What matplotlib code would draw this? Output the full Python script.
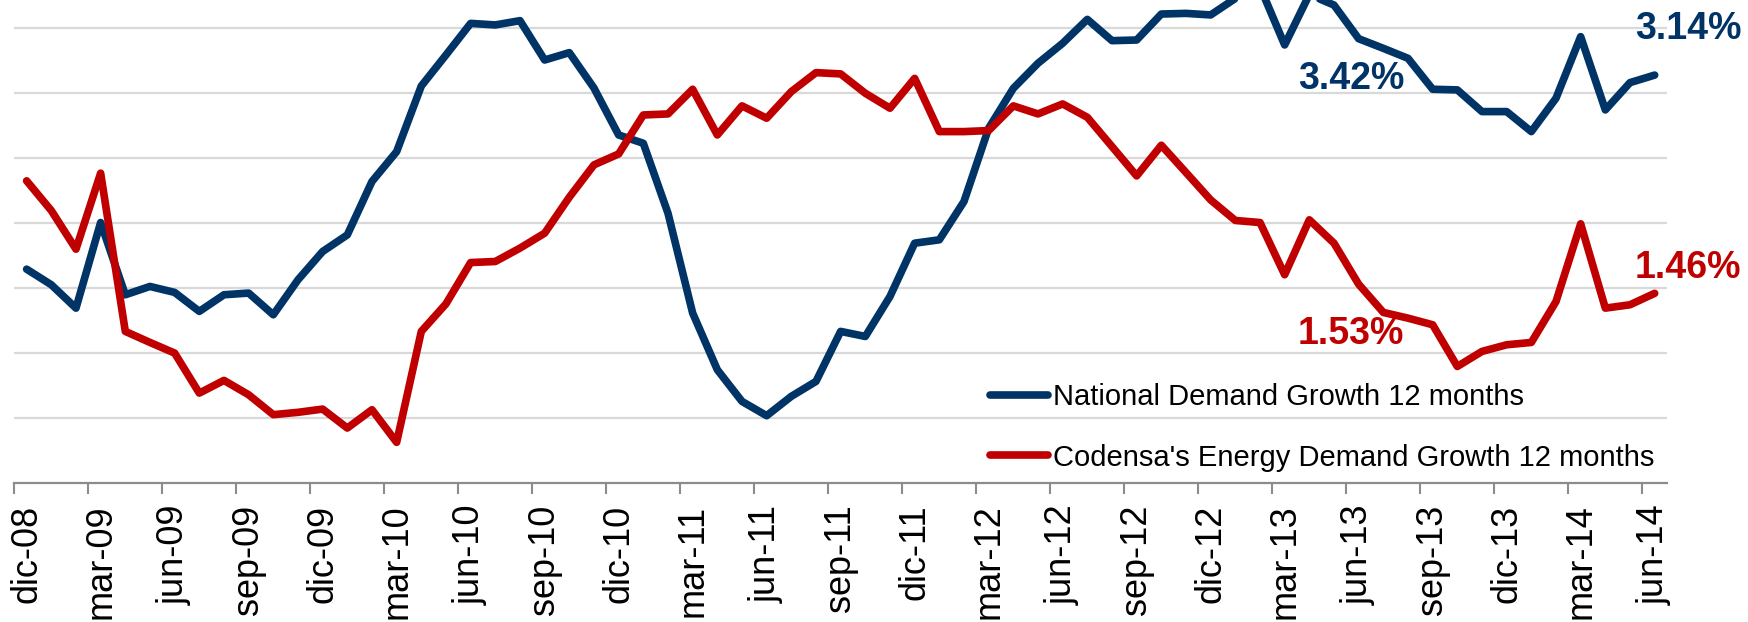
import matplotlib
matplotlib.use("Agg")
import matplotlib.pyplot as plt
import numpy as np

# monthly 12-month demand growth (%), dic-08 .. jun-14
national_growth = [
    1.646, 1.526, 1.346, 2.005, 1.449, 1.513, 1.467, 1.321, 1.449, 1.462,
    1.295, 1.564, 1.782, 1.910, 2.321, 2.551, 3.056, 3.295, 3.538, 3.526,
    3.559, 3.256, 3.313, 3.040, 2.679, 2.615, 2.077, 1.308, 0.872, 0.628,
    0.518, 0.667, 0.782, 1.167, 1.128, 1.436, 1.846, 1.872, 2.167, 2.731,
    3.038, 3.231, 3.385, 3.569, 3.405, 3.410, 3.610, 3.615, 3.603, 3.730,
    3.820, 3.372, 3.760, 3.679, 3.420, 3.346, 3.269, 3.031, 3.026, 2.859,
    2.859, 2.705, 2.962, 3.436, 2.872, 3.082, 3.140,
]
codensa_growth = [
    2.326, 2.097, 1.800, 2.385, 1.167, 1.082, 1.000, 0.692, 0.790, 0.679,
    0.526, 0.544, 0.569, 0.423, 0.564, 0.313, 1.167, 1.379, 1.697, 1.705,
    1.808, 1.923, 2.200, 2.449, 2.533, 2.833, 2.841, 3.031, 2.679, 2.903,
    2.808, 3.013, 3.159, 3.149, 3.000, 2.885, 3.115, 2.705, 2.705, 2.713,
    2.903, 2.841, 2.918, 2.815, 2.590, 2.364, 2.600, 2.390, 2.179, 2.021,
    2.005, 1.603, 2.026, 1.846, 1.530, 1.313, 1.269, 1.218, 0.897, 1.013,
    1.064, 1.082, 1.397, 1.995, 1.346, 1.372, 1.460,
]
tick_labels = [
    "dic-08", "mar-09", "jun-09", "sep-09", "dic-09", "mar-10", "jun-10",
    "sep-10", "dic-10", "mar-11", "jun-11", "sep-11", "dic-11", "mar-12",
    "jun-12", "sep-12", "dic-12", "mar-13", "jun-13", "sep-13", "dic-13",
    "mar-14", "jun-14",
]
grid_values = [0.5, 1.0, 1.5, 2.0, 2.5, 3.0, 3.5]
# (series, month index, offset in points)
labeled_points = [("national", 54, (-5, -29)), ("national", 66, (24, 33)),
                  ("codensa", 54, (-6, -36)), ("codensa", 66, (24, 18))]

BLUE = "#003366"
RED = "#C00000"
GRID = "#D9D9D9"
AXIS = "#8C8C8C"
LINEWIDTH = 5.5

plt.rcParams['font.family'] = ['Liberation Sans', 'DejaVu Sans']

fig = plt.figure(figsize=(17.48, 6.22), dpi=100)
ax = fig.add_axes([14.3 / 1748, 1 - 483 / 622, (1667 - 14.3) / 1748, 483 / 622])

months = np.arange(len(national_growth))
l1, = ax.plot(months, national_growth, color=BLUE, linewidth=LINEWIDTH,
              solid_capstyle='round', solid_joinstyle='round',
              label="National Demand Growth 12 months")
l2, = ax.plot(months, codensa_growth, color=RED, linewidth=LINEWIDTH,
              solid_capstyle='round', solid_joinstyle='round',
              label="Codensa's Energy Demand Growth 12 months")

ax.set_xlim(-0.5, len(months) - 0.5)
ax.set_ylim(0, 3.718)

# horizontal grid only, no y labels
ax.set_yticks(grid_values)
ax.yaxis.grid(True, color=GRID, linewidth=1.6)
ax.tick_params(axis='y', left=False, labelleft=False)
ax.set_axisbelow(True)

for side in ['top', 'right', 'left']:
    ax.spines[side].set_visible(False)
ax.spines['bottom'].set_color(AXIS)
ax.spines['bottom'].set_linewidth(1.6)

# ticks between categories, labels centred on the category
ax.set_xticks(np.arange(-0.5, len(months) - 1, 3))
ax.set_xticklabels([])
ax.tick_params(axis='x', which='major', direction='out', length=7.7,
               width=1.5, color=AXIS)
ax.set_xticks(np.arange(0, len(months), 3), minor=True)
ax.set_xticklabels(tick_labels, minor=True, rotation=90, fontsize=26)
ax.tick_params(axis='x', which='minor', length=0, pad=15.5)

series = {"national": (national_growth, BLUE), "codensa": (codensa_growth, RED)}
for name, idx, offset in labeled_points:
    values, color = series[name]
    ax.annotate(f"{values[idx]:.2f}%", xy=(idx, values[idx]), xytext=offset,
                textcoords='offset points', ha='center', va='center',
                fontsize=27, fontweight='bold', color=color, annotation_clip=False)

fig.legend(handles=[l1, l2], loc='center left', bbox_to_anchor=(990 / 1748, 1 - 427.5 / 622),
           frameon=False, fontsize=21, handlelength=2.0, handletextpad=0.15,
           labelspacing=1.1, borderpad=0, borderaxespad=0)

plt.savefig("out.png", dpi=100)
plt.close()
